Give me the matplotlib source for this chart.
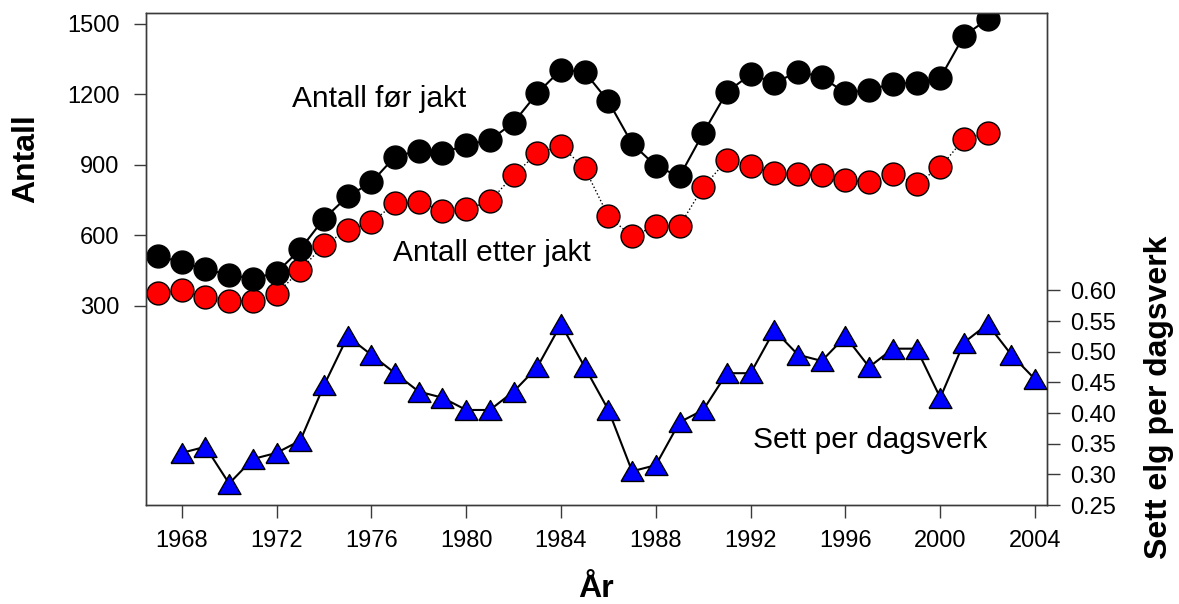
import matplotlib
matplotlib.use("Agg")
import matplotlib.pyplot as plt
import numpy as np

plt.rcParams['font.family'] = ['Liberation Sans', 'DejaVu Sans']

# ---- data ----
years_pop = list(range(1967, 2003))
before_hunt = [510, 485, 455, 430, 415, 440, 540, 670, 765, 825,
               935, 960, 950, 985, 1005, 1080, 1205, 1305, 1295, 1170,
               990, 895, 850, 1035, 1210, 1285, 1250, 1295, 1275, 1205,
               1220, 1245, 1250, 1270, 1450, 1520]
after_hunt = [355, 365, 335, 320, 320, 350, 450, 560, 620, 655,
              735, 740, 705, 710, 745, 855, 950, 980, 885, 680,
              595, 640, 640, 805, 920, 895, 865, 860, 855, 835,
              825, 860, 820, 890, 1010, 1035]
years_seen = list(range(1968, 2005))
seen_per_day = [0.335, 0.345, 0.285, 0.325, 0.335, 0.355, 0.445, 0.525, 0.495, 0.465,
                0.435, 0.425, 0.405, 0.405, 0.435, 0.475, 0.545, 0.475, 0.405, 0.305,
                0.315, 0.385, 0.405, 0.465, 0.465, 0.535, 0.495, 0.485, 0.525, 0.475,
                0.505, 0.505, 0.425, 0.515, 0.545, 0.495, 0.455]

x_ticks = [1968, 1972, 1976, 1980, 1984, 1988, 1992, 1996, 2000, 2004]
left_ticks = [300, 600, 900, 1200, 1500]
right_ticks = [0.25, 0.30, 0.35, 0.40, 0.45, 0.50, 0.55, 0.60]

# ---- figure ----
W, H = 1179, 604
fig = plt.figure(figsize=(W / 100, H / 100), dpi=100)
ax1 = fig.add_axes([145.7 / W, 1 - 505 / H, (1046.7 - 145.7) / W, (505 - 12.7) / H])
ax2 = ax1.twinx()

spine_col = '#3a3a3a'
for ax in (ax1, ax2):
    for s in ax.spines.values():
        s.set_color(spine_col)
        s.set_linewidth(1.0)

ax1.set_xlim(1966.48, 2004.49)
ax1.set_ylim(-550, 1548)
ax2.set_ylim(0.25, 1.053)

ax1.plot(years_pop, before_hunt, '-', color='black', lw=1.5, zorder=3,
         marker='o', ms=16.5, mfc='black', mec='black', mew=1.0)
ax1.plot(years_pop, after_hunt, ':', color='black', lw=1.0, zorder=2,
         marker='o', ms=16.5, mfc='#ff0000', mec='black', mew=1.0)

tri = [(-1, -0.87), (1, -0.87), (0, 0.87), (-1, -0.87)]
ax2.plot(years_seen, seen_per_day, '-', color='black', lw=1.5, zorder=3,
         marker=tri, ms=16.5, mfc='#0000ff', mec='black', mew=1.0)

ax1.set_xticks(x_ticks)
ax1.set_xticklabels([str(y) for y in x_ticks])
ax1.set_yticks(left_ticks)
ax1.set_yticklabels([str(v) for v in left_ticks])
ax2.set_yticks(right_ticks)
ax2.set_yticklabels([f"{v:.2f}" for v in right_ticks])

ax1.tick_params(axis='x', direction='out', length=9, width=1.0, color=spine_col,
                labelsize=17, pad=9)
ax1.tick_params(axis='y', direction='out', length=9, width=1.0, color=spine_col,
                labelsize=17, pad=10)
ax2.tick_params(axis='y', direction='out', length=9, width=1.0, color=spine_col,
                labelsize=17, pad=8)

# annotations
ax1.text(1976.32, 1146, 'Antall før jakt', fontsize=21.5, ha='center', va='baseline')
ax1.text(1981.07, 491, 'Antall etter jakt', fontsize=21.5, ha='center', va='baseline')
ax2.text(1997.05, 0.343, 'Sett per dagsverk', fontsize=21.5, ha='center', va='baseline')

# axis labels
fig.text(26 / W, 1 - 159 / H, 'Antall', rotation=90, fontsize=23, weight='bold',
         ha='center', va='center')
fig.text(596 / W, 1 - 597 / H, 'År', fontsize=23, weight='bold',
         ha='center', va='baseline')
fig.text(1159 / W, 1 - 397 / H, 'Sett elg per dagsverk', rotation=90, fontsize=23,
         weight='bold', ha='center', va='center')

fig.savefig('out.png', dpi=100)
